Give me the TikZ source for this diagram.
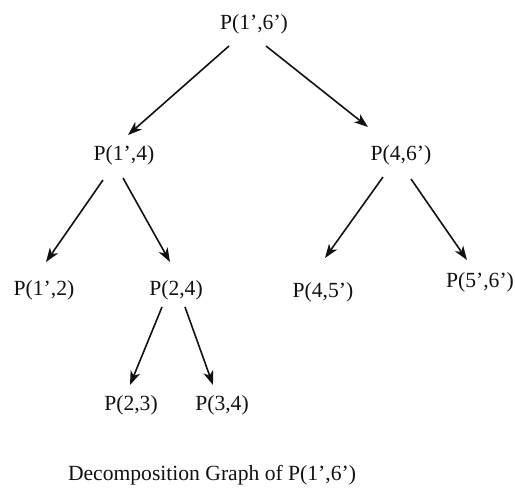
\documentclass[tikz,border=0pt]{standalone}
\usepackage{fontspec}
\setmainfont{Liberation Serif}
\usetikzlibrary{arrows.meta}
\definecolor{ink}{HTML}{111111}
\begin{document}
\begin{tikzpicture}[x=1pt,y=-1pt,
  term/.style={inner sep=0pt,text=ink,font=\fontsize{21.6}{26}\selectfont},
  edge/.style={draw=ink,line width=1.6pt,-{Stealth[length=14pt,width=10pt,inset=4pt]}}]
\useasboundingbox (0,0) rectangle (515,490);
% nodes of the decomposition tree
\node[term] (root) at (254,24) {P(1’,6’)};
\node[term] (a) at (124,155) {P(1’,4)};
\node[term] (b) at (401,155) {P(4,6’)};
\node[term] (c) at (44,290) {P(1’,2)};
\node[term] (d) at (176,290) {P(2,4)};
\node[term] (e) at (323,292) {P(4,5’)};
\node[term] (f) at (480,282) {P(5’,6’)};
\node[term] (g) at (131,405) {P(2,3)};
\node[term] (h) at (222,405) {P(3,4)};
\node[term] (cap) at (212,475) {Decomposition Graph of P(1’,6’)};
% decomposition arrows
\draw[edge] ([shift={(-25,22)}]root.center) -- ([shift={(4,-20)}]a.center);
\draw[edge] ([shift={(12,22)}]root.center) -- ([shift={(-33,-28)}]b.center);
\draw[edge] ([shift={(-21,25)}]a.center) -- ([shift={(2,-28)}]c.center);
\draw[edge] ([shift={(-1,23)}]a.center) -- ([shift={(-6,-28)}]d.center);
\draw[edge] ([shift={(-18,22)}]b.center) -- ([shift={(2,-34)}]e.center);
\draw[edge] ([shift={(10,24)}]b.center) -- ([shift={(-13,-22)}]f.center);
\draw[edge] ([shift={(-14,17)}]d.center) -- ([shift={(-1,-20)}]g.center);
\draw[edge] ([shift={(9,17)}]d.center) -- ([shift={(-9,-20)}]h.center);
\end{tikzpicture}
\end{document}
